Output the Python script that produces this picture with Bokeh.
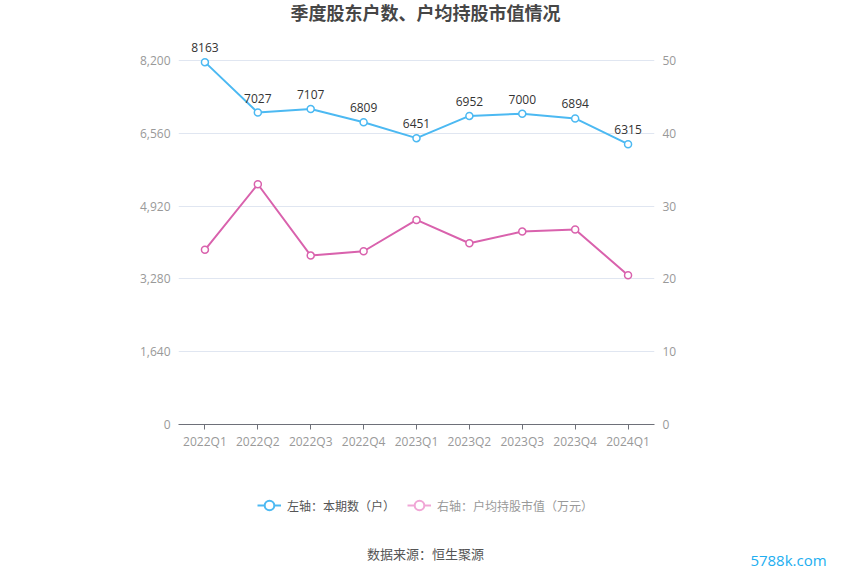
from bokeh.plotting import figure
from bokeh.layouts import column
from bokeh.models import (ColumnDataSource, Range1d, LinearAxis, FixedTicker, Label,
                          Legend, LegendItem, NumeralTickFormatter, FactorRange)
from bokeh.core.properties import value
from bokeh.embed import file_html
from bokeh.resources import INLINE

quarters = ["2022Q1", "2022Q2", "2022Q3", "2022Q4", "2023Q1", "2023Q2", "2023Q3", "2023Q4", "2024Q1"]
holders = [8163, 7027, 7107, 6809, 6451, 6952, 7000, 6894, 6315]
avg_value = [24.0, 33.0, 23.2, 23.8, 28.1, 24.9, 26.5, 26.8, 20.5]
left_ticks = [0, 1640, 3280, 4920, 6560, 8200]
right_ticks = [0, 10, 20, 30, 40, 50]

title_text = "季度股东户数、户均持股市值情况"
legend_left = "左轴：本期数（户）"
legend_right = "右轴：户均持股市值（万元）"
source_text = "数据来源：恒生聚源"
watermark = "5788k.com"

FONT = "Noto Sans CJK SC"
NUMFONT = "Open Sans"
BLUE = "#4cb9f2"
PINK = "#d962ad"
W = 850

# ---------- layout geometry (pixels) ----------
TOP_H = 32          # title strip
MAIN_H = 438        # main chart
BOT_H = 105         # legend / source strip
FL, FR = 178, 196   # frame left / right borders in main chart
FB = 46             # bottom border in main chart
frame_h = MAIN_H - FB
grid_top_px = 28    # distance from frame top to the 8200 gridline
scale_ext = frame_h / (frame_h - grid_top_px)

def bare(fig):
    fig.outline_line_color = None
    fig.background_fill_color = "white"
    fig.border_fill_color = "white"
    fig.min_border = 0
    fig.frame_align = False
    return fig

# ---------- title strip ----------
pt = bare(figure(width=W, height=TOP_H, x_range=Range1d(0, 1), y_range=Range1d(0, 1),
                 x_axis_location=None, y_axis_location=None,
                 output_backend="svg", toolbar_location=None))
pt.grid.visible = False
pt.add_layout(Label(x=425, y=TOP_H - 11, x_units="screen", y_units="screen", text=title_text,
                    text_font=FONT, text_font_size="18px", text_font_style="bold",
                    text_color="#464646", text_align="center", text_baseline="middle"))

# ---------- main chart ----------
p = figure(width=W, height=MAIN_H, x_range=FactorRange(*quarters, range_padding=0),
           y_range=Range1d(0, left_ticks[-1] * scale_ext), output_backend="svg",
           toolbar_location=None)
bare(p)
p.min_border_left = FL
p.min_border_right = FR
p.min_border_top = 0
p.min_border_bottom = FB
p.extra_y_ranges = {"right": Range1d(0, right_ticks[-1] * scale_ext)}

src = ColumnDataSource(dict(q=quarters, h=holders, v=avg_value, lab=[str(x) for x in holders]))

p.xgrid.grid_line_color = None
p.ygrid.ticker = FixedTicker(ticks=left_ticks)
p.ygrid.grid_line_color = "#e0e6f1"
p.ygrid.grid_line_width = 1

ya = p.yaxis[0]
ya.ticker = FixedTicker(ticks=left_ticks)
ya.formatter = NumeralTickFormatter(format="0,0")
ya.axis_line_color = None
ya.major_tick_line_color = None
ya.major_tick_out = 0
ya.minor_tick_line_color = None
ya.major_label_text_color = "#999999"
ya.major_label_text_font_size = "12px"
ya.major_label_text_font = NUMFONT
ya.major_label_standoff = 8

ra = LinearAxis(y_range_name="right", ticker=FixedTicker(ticks=right_ticks))
ra.axis_line_color = None
ra.major_tick_line_color = None
ra.major_tick_out = 0
ra.minor_tick_line_color = None
ra.major_label_text_color = "#999999"
ra.major_label_text_font_size = "12px"
ra.major_label_text_font = NUMFONT
ra.major_label_standoff = 8
p.add_layout(ra, "right")

xa = p.xaxis[0]
xa.axis_line_color = "#6e7079"
xa.major_tick_line_color = "#6e7079"
xa.major_tick_out = 5
xa.major_tick_in = 0
xa.major_label_text_color = "#999999"
xa.major_label_text_font_size = "12px"
xa.major_label_text_font = NUMFONT
xa.major_label_standoff = 3

p.line("q", "h", source=src, line_color=BLUE, line_width=2)
p.scatter("q", "h", source=src, size=7, fill_color="white", line_color=BLUE, line_width=1.5)
p.line("q", "v", source=src, line_color=PINK, line_width=2, y_range_name="right")
p.scatter("q", "v", source=src, size=7, fill_color="white", line_color=PINK, line_width=1.5,
          y_range_name="right")

p.text("q", "h", text="lab", source=src, text_align="center", text_baseline="bottom",
       y_offset=-10, text_font=value(NUMFONT), text_font_size="12px", text_color="#333333")

# ---------- bottom strip: legend, source, watermark ----------
pb = bare(figure(width=W, height=BOT_H, x_range=Range1d(0, 1), y_range=Range1d(0, 1),
                 x_axis_location=None, y_axis_location=None,
                 output_backend="svg", toolbar_location=None))
pb.grid.visible = False
nan_src = ColumnDataSource(dict(x=[0.5], y=[float("nan")]))
d1 = pb.line("x", "y", source=nan_src, line_color=BLUE, line_width=2)
d1m = pb.scatter("x", "y", source=nan_src, fill_color="white", line_color=BLUE, line_width=2)
d2 = pb.line("x", "y", source=nan_src, line_color="#f0a6d6", line_width=2)
d2m = pb.scatter("x", "y", source=nan_src, fill_color="white", line_color="#f0a6d6", line_width=2)

def mk_legend(items, loc, color):
    lg = Legend(items=items, location=loc, orientation="horizontal", padding=0, margin=0,
                border_line_alpha=0, background_fill_alpha=0, glyph_width=24, glyph_height=24,
                label_standoff=6, label_text_font=FONT, label_text_font_size="12px",
                label_text_color=color, label_height=24)
    pb.add_layout(lg, "center")

mk_legend([LegendItem(label=legend_left, renderers=[d1, d1m])], (257, BOT_H - 47), "#555555")
mk_legend([LegendItem(label=legend_right, renderers=[d2, d2m])], (407, BOT_H - 47), "#999999")

pb.add_layout(Label(x=425, y=BOT_H - 83, x_units="screen", y_units="screen", text=source_text,
                    text_font=FONT, text_font_size="13px", text_color="#555555",
                    text_align="center", text_baseline="middle"))
pb.add_layout(Label(x=788, y=BOT_H - 89, x_units="screen", y_units="screen", text=watermark,
                    text_font=NUMFONT, text_font_size="15px", text_color="#22aef0",
                    text_align="center", text_baseline="middle"))

layout = column(pt, p, pb, spacing=0)
open("out.html", "w").write(file_html(layout, INLINE))
